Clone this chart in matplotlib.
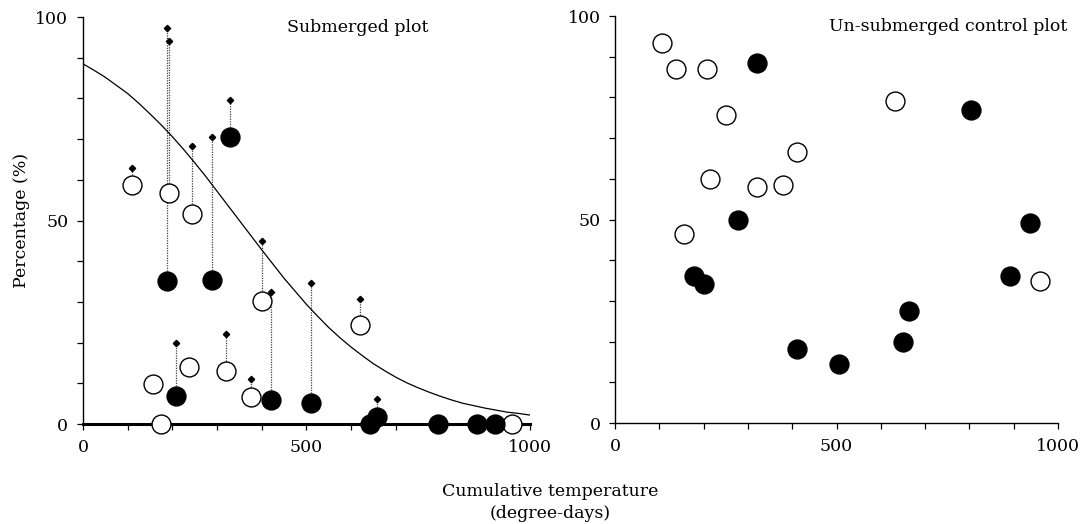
"""Submerged vs un-submerged plots: percentage against cumulative temperature."""

import matplotlib.pyplot as plt
from matplotlib.ticker import MultipleLocator

plt.rcParams["font.family"] = ["DejaVu Serif"]

# submerged plot: open circles
sub_open_x = [109, 192, 243, 401, 619, 238, 321, 375, 157, 175, 961]
sub_open_y = [58.7, 56.8, 51.6, 30.2, 24.4, 14.1, 13.0, 6.6, 9.8, 0, 0]
sub_open_top = [62.8, 94.2, 68.3, 45.0, 30.8, None, 22.1, 11.0, None, None, None]

# submerged plot: filled circles
sub_fill_x = [329, 187, 289, 208, 420, 510, 657, 642, 794, 881, 923]
sub_fill_y = [70.5, 35.1, 35.4, 6.9, 5.8, 5.2, 1.8, 0, 0, 0, 0]
sub_fill_top = [79.6, 97.2, 70.5, 19.8, 32.4, 34.6, 6.1, None, None, None, None]

# fitted curve
curve_x = [0, 25, 50, 75, 100, 125, 150, 175, 200, 225, 250, 275, 300, 325,
           350, 375, 400, 425, 450, 475, 500, 525, 550, 575, 600, 625, 650,
           675, 700, 725, 750, 775, 800, 825, 850, 875, 900, 925, 950, 975, 1000]
curve_y = [88.5, 86.9, 85.2, 83.2, 81.2, 78.8, 76.2, 73.5, 70.6, 67.5, 64.2,
           60.8, 57.2, 53.6, 50.0, 46.4, 42.8, 39.3, 35.8, 32.6, 29.4, 26.5,
           23.7, 21.2, 18.9, 16.8, 14.8, 13.1, 11.5, 10.1, 8.9, 7.8, 6.8, 5.9,
           5.1, 4.5, 3.9, 3.4, 2.9, 2.6, 2.2]

# un-submerged control plot
ctl_open_x = [107, 138, 207, 250, 411, 214, 320, 379, 156, 632, 959]
ctl_open_y = [93.3, 87.1, 87.1, 75.7, 66.6, 59.9, 58.1, 58.6, 46.5, 79.2, 35.0]
ctl_fill_x = [320, 278, 179, 201, 410, 803, 937, 892, 664, 651, 506]
ctl_fill_y = [88.4, 50.0, 36.1, 34.2, 18.2, 76.9, 49.2, 36.2, 27.6, 20.0, 14.5]

FS = 12.5
MS = 185


def style_axes(ax, thick_bottom=False):
    ax.set_xlim(0, 1000)
    ax.set_ylim(0, 100)
    ax.spines["top"].set_visible(False)
    ax.spines["right"].set_visible(False)
    ax.spines["left"].set_linewidth(1.0)
    ax.spines["bottom"].set_linewidth(2.2 if thick_bottom else 1.0)
    ax.xaxis.set_major_locator(MultipleLocator(500))
    ax.xaxis.set_minor_locator(MultipleLocator(100))
    ax.yaxis.set_major_locator(MultipleLocator(50))
    ax.yaxis.set_minor_locator(MultipleLocator(10))
    ax.tick_params(which="both", direction="out", length=4.5, width=0.9,
                   labelsize=FS, pad=6)


fig = plt.figure(figsize=(10.83, 5.24), dpi=100)
ax1 = fig.add_axes([0.0766, 0.1908, 0.4127, 0.7767])
ax2 = fig.add_axes([0.5679, 0.1927, 0.4090, 0.7767])

# left panel
for xs, ys, tops in [(sub_open_x, sub_open_y, sub_open_top),
                     (sub_fill_x, sub_fill_y, sub_fill_top)]:
    for x, y, t in zip(xs, ys, tops):
        if t is None:
            continue
        ax1.plot([x, x], [y, t], color="#444444", lw=0.9, ls=(0, (1, 1)), zorder=1)
        ax1.plot([x], [t], marker="D", ms=3.2, color="black", zorder=2)

ax1.plot(curve_x, curve_y, color="black", lw=0.9, zorder=2)
ax1.scatter(sub_open_x, sub_open_y, s=MS, facecolor="white", edgecolor="black",
            linewidth=1.0, zorder=3, clip_on=False)
ax1.scatter(sub_fill_x, sub_fill_y, s=MS, facecolor="black", edgecolor="black",
            linewidth=1.0, zorder=3, clip_on=False)
style_axes(ax1, thick_bottom=True)
ax1.text(0.456, 0.975, "Submerged plot", transform=ax1.transAxes, fontsize=FS,
         ha="left", va="center")
ax1.set_ylabel("Percentage (%)", fontsize=FS, labelpad=4)

# right panel
ax2.scatter(ctl_open_x, ctl_open_y, s=MS, facecolor="white", edgecolor="black",
            linewidth=1.0, zorder=3, clip_on=False)
ax2.scatter(ctl_fill_x, ctl_fill_y, s=MS, facecolor="black", edgecolor="black",
            linewidth=1.0, zorder=3, clip_on=False)
style_axes(ax2)
ax2.text(1.02, 0.975, "Un-submerged control plot", transform=ax2.transAxes,
         fontsize=FS, ha="right", va="center", clip_on=False)

fig.text(0.508, 0.062, "Cumulative temperature", fontsize=FS, ha="center", va="center")
fig.text(0.508, 0.020, "(degree-days)", fontsize=FS, ha="center", va="center")

fig.savefig("out.png", dpi=100)
